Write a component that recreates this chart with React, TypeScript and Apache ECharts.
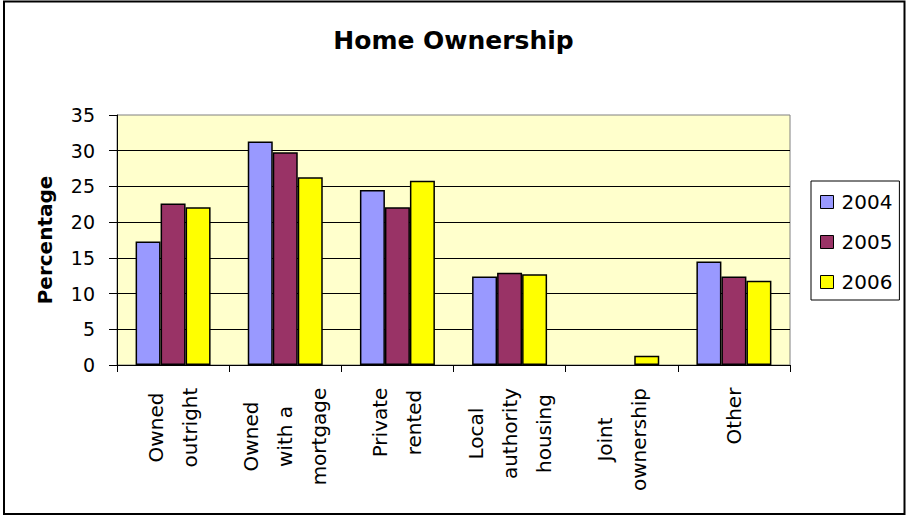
import React, { useEffect, useRef } from "react";
import * as echarts from "echarts";

const categories = [
  "Owned\noutright",
  "Owned\nwith a\nmortgage",
  "Private\nrented",
  "Local\nauthority\nhousing",
  "Joint\nownership",
  "Other",
];
const seriesNames = ["2004", "2005", "2006"];
const values2004 = [17.3, 31.3, 24.5, 12.4, null, 14.5];
const values2005 = [22.6, 29.8, 22.1, 12.9, null, 12.4];
const values2006 = [22.1, 26.3, 25.8, 12.7, 1.3, 11.8];
const colors = ["#9999FF", "#993366", "#FFFF00"];
const titleText = "Home Ownership";
const yAxisTitle = "Percentage";

const FONT = "DejaVu Sans";
const CAT_FONT_SIZE = 20;

function measure(text: string, font: string): number {
  const c = document.createElement("canvas");
  const ctx = c.getContext("2d");
  if (!ctx) return text.length * 11;
  ctx.font = font;
  return ctx.measureText(text).width;
}

export default function App() {
  const ref = useRef<HTMLDivElement>(null);
  useEffect(() => {
    if (!ref.current) return;
    const chart = echarts.init(ref.current, null, { renderer: "svg" });
    const allValues = [values2004, values2005, values2006];
    const rich: Record<string, any> = {};
    categories.forEach((cat, i) => {
      const w = Math.max(
        ...cat.split("\n").map((l) => measure(l, `${CAT_FONT_SIZE}px "${FONT}"`))
      );
      rich["c" + i] = {
        width: Math.ceil(w) + 1,
        align: "center",
        fontFamily: FONT,
        fontSize: CAT_FONT_SIZE,
        lineHeight: 34,
        color: "#000",
      };
    });
    chart.setOption({
      animation: false,
      backgroundColor: "#ffffff",
      title: {
        text: titleText,
        left: "center",
        top: 23,
        textStyle: { fontFamily: FONT, fontWeight: "bold", fontSize: 25, color: "#000" },
      },
      legend: {
        orient: "vertical",
        left: 811,
        top: 181,
        padding: [11, 7, 8, 9],
        itemWidth: 13,
        itemHeight: 13,
        itemGap: 20,
        icon: "rect",
        borderColor: "#000",
        borderWidth: 1,
        backgroundColor: "#fff",
        itemStyle: { borderColor: "#000", borderWidth: 1 },
        textStyle: { fontFamily: FONT, fontSize: 20, color: "#000", padding: [0, 0, 0, 3] },
        data: seriesNames,
      },
      grid: {
        left: 117,
        right: 117,
        top: 115,
        bottom: 151,
        show: true,
        backgroundColor: "#FFFFCC",
        borderColor: "#808080",
        borderWidth: 1,
      },
      xAxis: {
        type: "category",
        data: categories,
        axisLine: { lineStyle: { color: "#000", width: 1 } },
        axisTick: { show: true, length: 7, alignWithLabel: false, lineStyle: { color: "#000" } },
        axisLabel: {
          interval: 0,
          rotate: 90,
          margin: 22,
          fontFamily: FONT,
          fontSize: CAT_FONT_SIZE,
          lineHeight: 34,
          color: "#000",
          formatter: (value: string, index: number) =>
            value
              .split("\n")
              .map((l) => `{c${index}|${l}}`)
              .join("\n"),
          rich,
        },
      },
      yAxis: {
        type: "value",
        min: 0,
        max: 35,
        interval: 5,
        name: yAxisTitle,
        nameLocation: "middle",
        nameRotate: 90,
        nameGap: 62,
        nameTextStyle: { fontFamily: FONT, fontWeight: "bold", fontSize: 20, color: "#000" },
        axisLine: { show: true, lineStyle: { color: "#000", width: 1 } },
        axisTick: { show: true, length: 8, lineStyle: { color: "#000" } },
        axisLabel: { margin: 22, fontFamily: FONT, fontSize: 19, color: "#000" },
        splitLine: { show: true, showMaxLine: false, lineStyle: { color: "#000", width: 1 } },
      },
      series: seriesNames.map((name, i) => ({
        name,
        type: "bar",
        data: allValues[i],
        barWidth: 25,
        barGap: "0%",
        itemStyle: { color: colors[i], borderColor: "#000", borderWidth: 1.5 },
      })),
      graphic: [
        {
          type: "rect",
          shape: { x: 4, y: 1.5, width: 900.5, height: 512.5 },
          style: { fill: "none", stroke: "#000", lineWidth: 2 },
          silent: true,
          z: 100,
        },
      ],
    });
    return () => chart.dispose();
  }, []);
  return (
    <div
      ref={ref}
      style={{ position: "absolute", left: 0, top: 0, width: 907, height: 516 }}
    />
  );
}
